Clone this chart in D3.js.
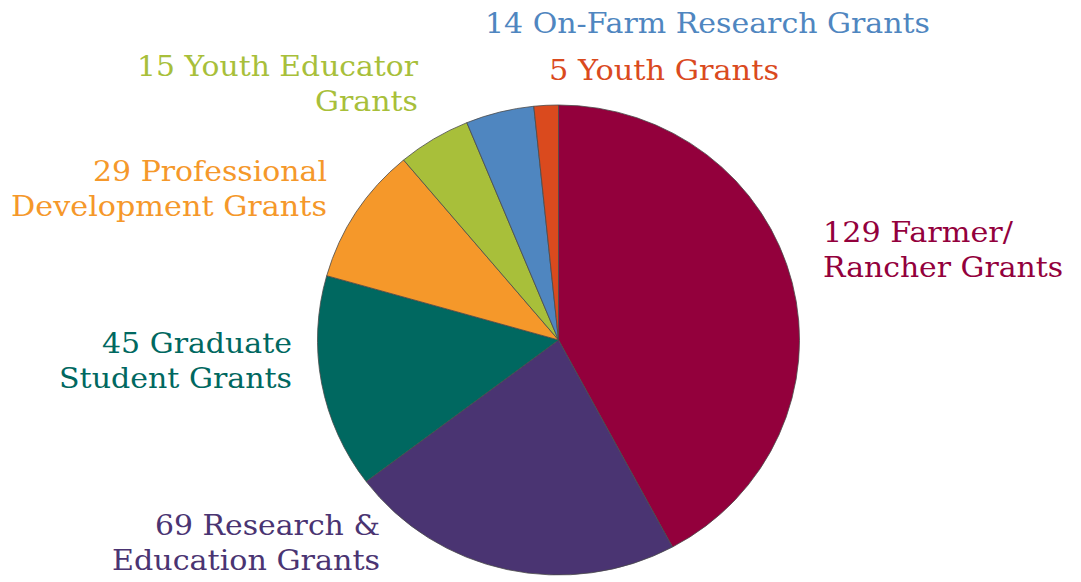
<!DOCTYPE html>
<meta charset="utf-8">
<script src="https://d3js.org/d3.v7.min.js"></script>
<style type="text/css">
body { margin: 0; background: #fff; }
.label { font-family: "DejaVu Serif", Georgia, serif; font-size: 28px; }
.slice { stroke: #4a4a4a; stroke-width: 0.8; }
</style>
<body>
<div id="canvas"></div>
<script>

// dados ------------------------------------------------------------
var categorias = ["Farmer/Rancher", "Research & Education", "Graduate Student",
                  "Professional Development", "Youth Educator", "On-Farm Research", "Youth"];
var valores = [129, 69, 45, 29, 15, 14, 5];
var cores = ["#93003c", "#4a3472", "#006860", "#f5982a", "#a8bf3a", "#4f86c0", "#da4a1e"];
var rotulos = [
  ["129 Farmer/", "Rancher Grants"],
  ["69 Research &", "Education Grants"],
  ["45 Graduate", "Student Grants"],
  ["29 Professional", "Development Grants"],
  ["15 Youth Educator", "Grants"],
  ["14 On-Farm Research Grants"],
  ["5 Youth Grants"]
];

var width = 1081;
var height = 582;

var svg = d3.select('#canvas')
  .append("svg")
  .attr("width", width)
  .attr("height", height);

// pizza ------------------------------------------------------------
var cx = 558.5, cy = 340, rx = 241, ry = 235;

var pie = d3.pie().sort(null).value(function(d) { return d; });
var arc = d3.arc().innerRadius(0).outerRadius(rx);

var g = svg.append("g")
  .attr("transform", "translate(" + cx + "," + cy + ") scale(1," + (ry / rx) + ")");

g.selectAll("path")
  .data(pie(valores))
  .enter().append("path")
  .attr("class", "slice")
  .attr("d", arc)
  .attr("fill", function(d, i) { return cores[i]; });

// rotulos: posicao, alinhamento e largura de cada bloco ------------
var pos = [
  {x: 823, y: 242, anchor: "start", w: [190, 240]},
  {x: 380, y: 535, anchor: "end",   w: [225, 268]},
  {x: 292, y: 353, anchor: "end",   w: [190, 233]},
  {x: 327, y: 181, anchor: "end",   w: [234, 316]},
  {x: 418, y: 76,  anchor: "end",   w: [281, 103]},
  {x: 485, y: 33,  anchor: "start", w: [445]},
  {x: 549, y: 80,  anchor: "start", w: [230]}
];
var lineH = 35;

rotulos.forEach(function(linhas, i) {
  var p = pos[i];
  linhas.forEach(function(t, j) {
    svg.append("text")
      .attr("class", "label")
      .attr("x", p.x)
      .attr("y", p.y + j * lineH)
      .attr("text-anchor", p.anchor)
      .attr("fill", cores[i])
      .attr("textLength", p.w[j])
      .attr("lengthAdjust", "spacingAndGlyphs")
      .text(t);
  });
});

</script>
</body>
